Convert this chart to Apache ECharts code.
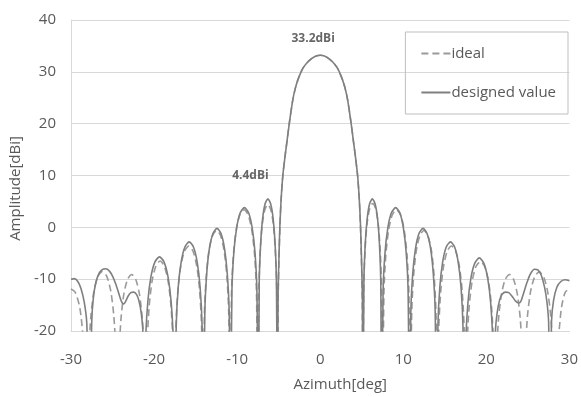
<!DOCTYPE html>
<html>
<head>
<meta charset="utf-8">
<script src="https://cdn.jsdelivr.net/npm/echarts@6/dist/echarts.min.js"></script>
<style>
html,body{margin:0;padding:0;background:#fff;}
#chart{width:581px;height:397px;}
</style>
</head>
<body>
<div id="chart"></div>
<script>
// X-axis ticks and y-axis ticks
var xTicks = [-30, -20, -10, 0, 10, 20, 30];
var yTicks = [-20, -10, 0, 10, 20, 30, 40];

// "designed value" (solid) : azimuth [deg] and amplitude [dBi]
var designAz = [
  -30, -29.6, -29.2, -28.8, -28.4, -28.1, -27.75,
  -27.5, -27.3, -27.0, -26.6, -26.2, -25.8, -25.4, -25.0, -24.6, -24.2, -23.9, -23.65, -23.4, -23.1, -22.8, -22.45, -22.1, -21.8, -21.55, -21.35, -21.2,
  -21.015, -20.756, -20.386, -19.905, -19.35, -18.795, -18.314, -17.944, -17.685, -17.5,
  -17.33, -17.09, -16.74, -16.29, -15.78, -15.26, -14.81, -14.46, -14.22, -14.05,
  -13.89, -13.66, -13.34, -12.91, -12.43, -11.94, -11.52, -11.19, -10.96, -10.8,
  -10.63, -10.40, -10.06, -9.63, -9.13, -8.62, -8.19, -7.85, -7.62, -7.45,
  -7.34, -7.17, -6.94, -6.64, -6.30, -5.96, -5.66, -5.43, -5.27, -5.15,
  -5.08, -4.97, -4.85, -4.7, -4.5, -4.25, -4.0, -3.7, -3.3, -3.0, -2.7, -2.3, -2.0, -1.5, -1.0, -0.5, 0,
  0.5, 1.0, 1.5, 2.0, 2.3, 2.7, 3.0, 3.3, 3.7, 4.0, 4.25, 4.5, 4.7, 4.85, 4.97, 5.08, 5.15,
  5.26, 5.42, 5.65, 5.94, 6.28, 6.61, 6.91, 7.13, 7.29, 7.4,
  7.57, 7.80, 8.14, 8.57, 9.08, 9.58, 10.01, 10.35, 10.58, 10.75,
  10.91, 11.14, 11.47, 11.89, 12.38, 12.86, 13.29, 13.61, 13.84, 14.0,
  14.17, 14.40, 14.74, 15.17, 15.68, 16.18, 16.61, 16.95, 17.18, 17.35,
  17.53, 17.78, 18.14, 18.61, 19.15, 19.69, 20.16, 20.52, 20.77, 20.95,
  21.1, 21.3, 21.6, 21.9, 22.3, 22.7, 23.1, 23.5, 23.9, 24.15, 24.5, 24.9, 25.3, 25.8, 26.2, 26.6, 27.0, 27.3, 27.5, 27.65,
  27.85, 28.1, 28.5, 29.0, 29.5, 30
];
var designDb = [
  -10.0, -9.9, -10.4, -11.8, -14.5, -18.5, -40,
  -18, -13.5, -10.6, -8.8, -8.1, -8.0, -8.4, -9.4, -11.0, -13.0, -14.4, -14.8, -14.2, -13.2, -12.6, -12.5, -13.0, -14.3, -16.5, -20, -40,
  -21.8, -14.4, -9.6, -6.7, -5.7, -6.7, -9.6, -14.4, -21.8, -40,
  -18.9, -11.5, -6.7, -3.8, -2.8, -3.8, -6.7, -11.5, -18.9, -40,
  -16.3, -8.9, -4.1, -1.2, -0.2, -1.2, -4.1, -8.9, -16.3, -40,
  -12.3, -4.9, -0.1, 2.8, 3.8, 2.8, -0.1, -4.9, -12.3, -40,
  -10.6, -3.2, 1.6, 4.5, 5.5, 4.5, 1.6, -3.2, -10.6, -40,
  -14, -6, 0.5, 5.5, 10, 13.5, 16.6, 20.3, 24.6, 26.8, 28.4, 30.0, 30.9, 31.9, 32.6, 33.05, 33.2,
  33.05, 32.6, 31.9, 30.9, 30.0, 28.4, 26.8, 24.6, 20.3, 16.6, 13.5, 10, 5.5, 0.5, -6, -14, -40,
  -10.6, -3.2, 1.6, 4.5, 5.5, 4.5, 1.6, -3.2, -10.6, -40,
  -12.3, -4.9, -0.1, 2.8, 3.8, 2.8, -0.1, -4.9, -12.3, -40,
  -16.3, -8.9, -4.1, -1.2, -0.2, -1.2, -4.1, -8.9, -16.3, -40,
  -18.9, -11.5, -6.7, -3.8, -2.8, -3.8, -6.7, -11.5, -18.9, -40,
  -22.0, -14.6, -9.8, -6.9, -5.9, -6.9, -9.8, -14.6, -22.0, -40,
  -20, -16.5, -14.0, -12.9, -12.5, -12.6, -13.3, -14.2, -14.6, -14.3, -12.6, -10.6, -9.0, -8.1, -8.2, -9.2, -11.5, -14.5, -18.5, -40,
  -18, -14, -11.5, -10.4, -10.1, -10.3
];

// "ideal" (dashed) : azimuth [deg] and amplitude [dBi]
var idealAz = [
  -30, -29.5, -28.95, -28.6, -28.3, -28.05,
  -27.87, -27.61, -27.25, -26.77, -26.23, -25.68, -25.20, -24.84, -24.58, -24.4,
  -24.23, -23.99, -23.65, -23.21, -22.70, -22.19, -21.75, -21.41, -21.17, -21.0,
  -20.83, -20.59, -20.24, -19.79, -19.28, -18.76, -18.31, -17.96, -17.72, -17.55,
  -17.38, -17.14, -16.79, -16.34, -15.83, -15.31, -14.86, -14.51, -14.27, -14.1,
  -13.94, -13.71, -13.39, -12.96, -12.48, -11.99, -11.57, -11.24, -11.01, -10.85,
  -10.68, -10.45, -10.11, -9.68, -9.18, -8.67, -8.24, -7.90, -7.67, -7.5,
  -7.38, -7.21, -6.98, -6.67, -6.31, -5.95, -5.64, -5.41, -5.24, -5.12,
  -5.06, -4.96, -4.84, -4.7, -4.5, -4.25, -4.0, -3.7, -3.3, -3.0, -2.7, -2.3, -2.0, -1.5, -1.0, -0.5, 0,
  0.5, 1.0, 1.5, 2.0, 2.3, 2.7, 3.0, 3.3, 3.7, 4.0, 4.25, 4.5, 4.7, 4.84, 4.96, 5.06, 5.12,
  5.24, 5.41, 5.64, 5.95, 6.31, 6.67, 6.98, 7.21, 7.38, 7.5,
  7.67, 7.90, 8.24, 8.67, 9.18, 9.68, 10.11, 10.45, 10.68, 10.85,
  11.01, 11.24, 11.57, 11.99, 12.48, 12.96, 13.39, 13.71, 13.94, 14.1,
  14.27, 14.51, 14.85, 15.29, 15.80, 16.31, 16.75, 17.09, 17.33, 17.5,
  17.68, 17.93, 18.28, 18.74, 19.28, 19.81, 20.27, 20.62, 20.87, 21.05,
  21.22, 21.46, 21.81, 22.26, 22.78, 23.29, 23.74, 24.09, 24.33, 24.5,
  24.69, 24.94, 25.31, 25.80, 26.35, 26.91, 27.39, 27.76, 28.02, 28.2,
  28.45, 28.75, 29.05, 29.5, 30
];
var idealDb = [
  -11.9, -12.5, -15.4, -20.2, -27, -40,
  -24.6, -17.2, -12.4, -9.5, -8.5, -9.5, -12.4, -17.2, -24.6, -40,
  -25.2, -17.8, -13.0, -10.1, -9.1, -10.1, -13.0, -17.8, -25.2, -40,
  -22.6, -15.2, -10.4, -7.5, -6.5, -7.5, -10.4, -15.2, -22.6, -40,
  -19.7, -12.3, -7.5, -4.6, -3.6, -4.6, -7.5, -12.3, -19.7, -40,
  -16.7, -9.3, -4.5, -1.6, -0.6, -1.6, -4.5, -9.3, -16.7, -40,
  -12.7, -5.3, -0.5, 2.4, 3.4, 2.4, -0.5, -5.3, -12.7, -40,
  -11.7, -4.3, 0.5, 3.4, 4.4, 3.4, 0.5, -4.3, -11.7, -40,
  -14, -6, 0.5, 5.5, 10, 13.5, 16.6, 20.3, 24.6, 26.8, 28.4, 30.0, 30.9, 31.9, 32.6, 33.05, 33.2,
  33.05, 32.6, 31.9, 30.9, 30.0, 28.4, 26.8, 24.6, 20.3, 16.6, 13.5, 10, 5.5, 0.5, -6, -14, -40,
  -11.5, -4.1, 0.7, 3.6, 4.6, 3.6, 0.7, -4.1, -11.5, -40,
  -12.7, -5.3, -0.5, 2.4, 3.4, 2.4, -0.5, -5.3, -12.7, -40,
  -16.7, -9.3, -4.5, -1.6, -0.6, -1.6, -4.5, -9.3, -16.7, -40,
  -19.7, -12.3, -7.5, -4.6, -3.6, -4.6, -7.5, -12.3, -19.7, -40,
  -22.7, -15.3, -10.5, -7.6, -6.6, -7.6, -10.5, -15.3, -22.7, -40,
  -25.2, -17.8, -13.0, -10.1, -9.1, -10.1, -13.0, -17.8, -25.2, -40,
  -24.7, -17.3, -12.5, -9.6, -8.6, -9.6, -12.5, -17.3, -24.7, -40,
  -27, -20.2, -15.4, -12.5, -11.9
];

// annotation texts with their anchor positions (azimuth, amplitude)
var noteTexts = ['33.2dBi', '4.4dBi'];
var noteAz = [-0.85, -8.4];
var noteDb = [36.4, 10.0];

function zip(a, b) { return a.map(function (v, i) { return [v, b[i]]; }); }

var FONT = '"Open Sans", "Noto Sans", sans-serif';
var TXT = '#595959';
var chart = echarts.init(document.getElementById('chart'), null, {renderer: 'canvas'});
chart.setOption({
  backgroundColor: '#ffffff',
  animation: false,
  grid: {left: 71, right: 8, top: 20, bottom: 60, containLabel: false},
  legend: {
    orient: 'vertical',
    right: 13, top: 32,
    padding: [14, 12, 14, 15],
    itemGap: 24,
    itemWidth: 29,
    itemHeight: 14,
    borderColor: '#bfbfbf',
    borderWidth: 1,
    itemStyle: {opacity: 0},
    textStyle: {fontFamily: FONT, fontSize: 15, color: TXT, padding: [0, 0, 0, -4]},
    data: ['ideal', 'designed value']
  },
  xAxis: {
    type: 'value', min: -30, max: 30, interval: 10,
    name: 'Azimuth[deg]', nameLocation: 'middle', nameGap: 46,
    nameTextStyle: {fontFamily: FONT, fontSize: 15, color: TXT, padding: [0, 0, 0, 40]},
    axisLine: {show: true, onZero: false, lineStyle: {color: '#d9d9d9', width: 1}},
    axisTick: {show: false},
    splitLine: {show: false},
    axisLabel: {fontFamily: FONT, fontSize: 15, color: TXT, margin: 21}
  },
  yAxis: {
    type: 'value', min: -20, max: 40, interval: 10,
    name: 'Amplitude[dBi]', nameLocation: 'middle', nameGap: 34,
    nameTextStyle: {fontFamily: FONT, fontSize: 15, color: TXT, padding: [0, 26, 0, 0]},
    axisLine: {show: true, onZero: false, lineStyle: {color: '#d9d9d9', width: 1}},
    axisTick: {show: false},
    splitLine: {show: true, lineStyle: {color: '#d9d9d9', width: 1}},
    axisLabel: {fontFamily: FONT, fontSize: 15, color: TXT, margin: 15}
  },
  series: [
    {
      name: 'ideal', type: 'line', showSymbol: false, symbol: 'none', clip: true,
      smooth: 0.25,
      data: zip(idealAz, idealDb),
      lineStyle: {color: '#9a9a9a', width: 1.6, type: [7, 4]},
      itemStyle: {color: '#9a9a9a'},
      z: 2
    },
    {
      name: 'designed value', type: 'line', showSymbol: false, symbol: 'none', clip: true,
      smooth: 0.25,
      data: zip(designAz, designDb),
      lineStyle: {color: '#7f7f7f', width: 1.6},
      itemStyle: {color: '#7f7f7f'},
      z: 3
    },
    {
      name: 'notes', type: 'scatter', symbolSize: 0, silent: true,
      data: noteTexts.map(function (t, i) { return {value: [noteAz[i], noteDb[i]], name: t}; }),
      label: {
        show: true, position: 'inside', formatter: function (p) { return p.name; },
        fontFamily: FONT, fontSize: 12, fontWeight: 'bold', color: '#404040'
      },
      z: 5
    }
  ]
});
</script>
</body>
</html>
